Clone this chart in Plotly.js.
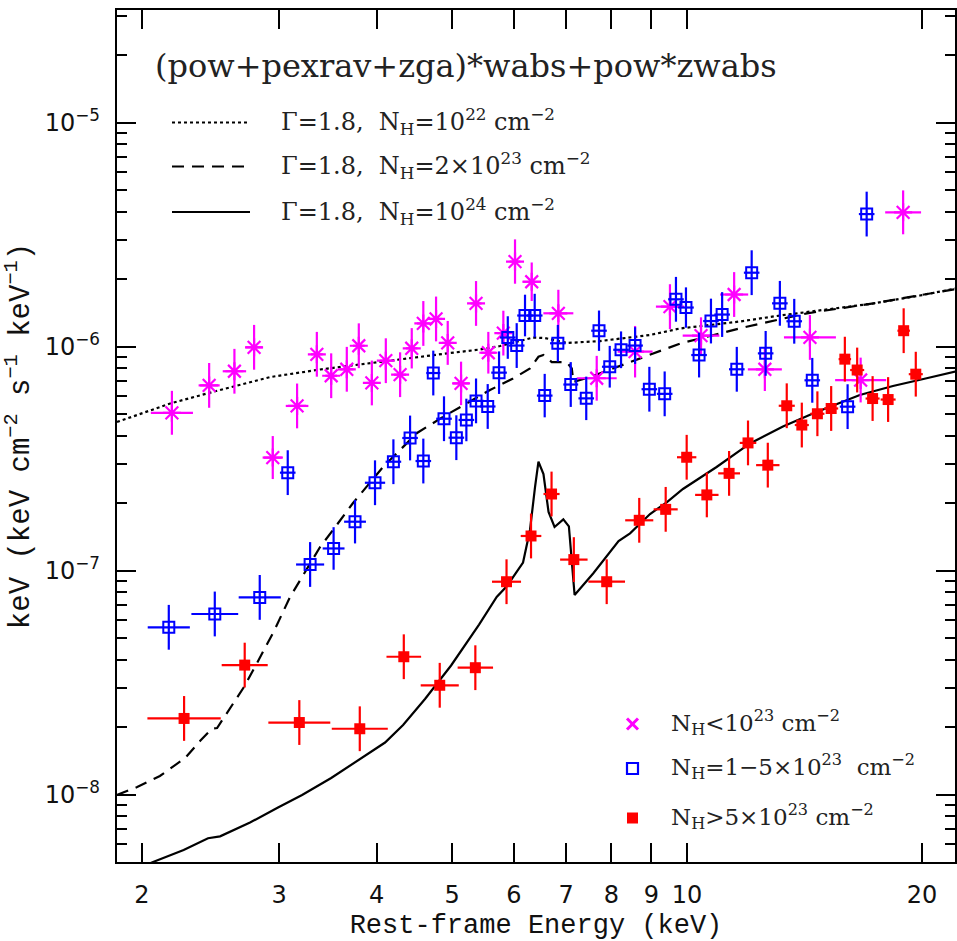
<!DOCTYPE html>
<html><head><meta charset="utf-8">
<script src="https://cdn.plot.ly/plotly-3.0.1.min.js"></script>
<style>html,body{margin:0;padding:0;background:#fff}#chart{width:957px;height:941px}</style>
</head><body><div id="chart"></div>
<script>
// ---------- data: N_H < 1e23 (magenta) ----------
const E_low = [2.186, 2.440, 2.629, 2.786, 2.944, 3.163, 3.353, 3.498, 3.663, 3.795, 3.944, 4.110, 4.287, 4.437, 4.591, 4.767, 4.934, 5.132, 5.364, 5.562, 5.814, 6.018, 6.322, 6.839, 7.659, 8.577, 9.507, 10.42, 11.49, 12.58, 14.37, 16.69, 18.92];
const F_low = [5.07e-7, 6.72e-7, 7.77e-7, 9.94e-7, 3.20e-7, 5.44e-7, 9.25e-7, 7.42e-7, 7.93e-7, 1.01e-6, 6.89e-7, 8.66e-7, 7.50e-7, 9.84e-7, 1.27e-6, 1.33e-6, 1.04e-6, 6.86e-7, 1.56e-6, 9.40e-7, 1.15e-6, 2.40e-6, 1.95e-6, 1.41e-6, 7.23e-7, 9.50e-7, 1.51e-6, 1.12e-6, 1.71e-6, 7.93e-7, 1.10e-6, 7.10e-7, 3.98e-6];
const dEdex_low = [0.027, 0.0135, 0.015, 0.011, 0.013, 0.0145, 0.0075, 0.0075, 0.0085, 0.0075, 0.007, 0.0075, 0.0077, 0.0073, 0.0081, 0.0077, 0.0074, 0.0103, 0.007, 0.0096, 0.0077, 0.0068, 0.0118, 0.0192, 0.0256, 0.0224, 0.018, 0.0235, 0.018, 0.0218, 0.0333, 0.0327, 0.023];
const dFdex_low = [0.098, 0.1, 0.1, 0.1, 0.096, 0.1, 0.1, 0.1, 0.1, 0.1, 0.1, 0.1, 0.1, 0.09, 0.1, 0.1, 0.098, 0.097, 0.1, 0.093, 0.1, 0.099, 0.086, 0.105, 0.1, 0.115, 0.1, 0.082, 0.1, 0.097, 0.1, 0.1, 0.098];

// ---------- data: N_H = 1-5e23 (blue) ----------
const E_mid = [2.166, 2.481, 2.833, 3.077, 3.287, 3.523, 3.753, 3.981, 4.203, 4.415, 4.591, 4.728, 4.880, 5.061, 5.213, 5.364, 5.552, 5.741, 5.891, 6.048, 6.198, 6.378, 6.569, 6.829, 7.094, 7.426, 7.711, 7.959, 8.229, 8.577, 8.946, 9.360, 9.677, 9.967, 10.36, 10.73, 11.09, 11.58, 12.10, 12.61, 13.15, 13.72, 14.47, 16.06, 16.99];
const F_mid = [5.59e-8, 6.41e-8, 7.60e-8, 2.74e-7, 1.066e-7, 1.257e-7, 1.655e-7, 2.47e-7, 3.066e-7, 3.913e-7, 3.088e-7, 7.63e-7, 4.77e-7, 3.925e-7, 4.71e-7, 5.73e-7, 5.41e-7, 7.66e-7, 1.099e-6, 1.012e-6, 1.378e-6, 1.378e-6, 6.05e-7, 1.036e-6, 6.78e-7, 5.88e-7, 1.179e-6, 8.14e-7, 9.69e-7, 1.012e-6, 6.46e-7, 6.16e-7, 1.628e-6, 1.496e-6, 9.18e-7, 1.302e-6, 1.392e-6, 7.93e-7, 2.14e-6, 9.34e-7, 1.562e-6, 1.299e-6, 7.08e-7, 5.40e-7, 3.91e-6];
const dEdex_mid = [0.027, 0.030, 0.027, 0.010, 0.018, 0.014, 0.014, 0.013, 0.010, 0.010, 0.010, 0.009, 0.010, 0.010, 0.010, 0.010, 0.010, 0.010, 0.010, 0.010, 0.010, 0.010, 0.010, 0.010, 0.0095, 0.010, 0.010, 0.010, 0.010, 0.010, 0.010, 0.010, 0.010, 0.010, 0.010, 0.010, 0.010, 0.010, 0.010, 0.010, 0.010, 0.010, 0.010, 0.010, 0.010];
const dFdex_mid = [0.1, 0.1, 0.1, 0.1, 0.1, 0.095, 0.097, 0.1, 0.1, 0.1, 0.1, 0.1, 0.1, 0.1, 0.095, 0.1, 0.1, 0.095, 0.095, 0.1, 0.093, 0.097, 0.097, 0.082, 0.1, 0.097, 0.09, 0.093, 0.082, 0.082, 0.1, 0.1, 0.1, 0.09, 0.1, 0.1, 0.1, 0.1, 0.1, 0.1, 0.1, 0.1, 0.1, 0.1, 0.1];

// ---------- data: N_H > 5e23 (red) ----------
const E_high = [2.266, 2.710, 3.184, 3.806, 4.334, 4.819, 5.353, 5.869, 6.309, 6.703, 7.159, 7.888, 8.683, 9.388, 9.988, 10.60, 11.32, 11.97, 12.69, 13.42, 14.03, 14.69, 15.30, 15.93, 16.52, 17.29, 18.10, 18.95, 19.64];
const F_high = [2.19e-8, 3.79e-8, 2.10e-8, 1.97e-8, 4.13e-8, 3.08e-8, 3.69e-8, 8.93e-8, 1.429e-7, 2.20e-7, 1.121e-7, 8.93e-8, 1.679e-7, 1.879e-7, 3.21e-7, 2.18e-7, 2.72e-7, 3.72e-7, 2.96e-7, 5.45e-7, 4.47e-7, 5.02e-7, 5.30e-7, 8.80e-7, 7.87e-7, 5.87e-7, 5.81e-7, 1.179e-6, 7.54e-7];
const dEdex_high = [0.047, 0.0295, 0.0397, 0.0359, 0.0222, 0.0244, 0.0227, 0.0186, 0.0132, 0.0103, 0.0176, 0.0235, 0.018, 0.0154, 0.0124, 0.015, 0.014, 0.0106, 0.015, 0.0103, 0.009, 0.009, 0.009, 0.008, 0.009, 0.009, 0.0096, 0.008, 0.009];
const dFdex_high = [0.1, 0.1, 0.1, 0.1, 0.1, 0.1, 0.1, 0.1, 0.1, 0.1, 0.1, 0.1, 0.1, 0.1, 0.1, 0.1, 0.1, 0.1, 0.1, 0.1, 0.1, 0.1, 0.1, 0.1, 0.1, 0.1, 0.1, 0.1, 0.1];

// ---------- models ----------
const E_m22 = [1.859, 2.020, 2.175, 2.520, 2.921, 3.385, 3.924, 4.376, 4.968, 5.428, 5.757, 6.107, 6.346, 6.575, 7.018, 7.734, 8.964, 9.792, 11.69, 13.15, 14.25, 17.31, 19.88, 22.11];
const F_m22 = [4.61e-7, 5.11e-7, 5.58e-7, 6.41e-7, 7.32e-7, 7.91e-7, 8.41e-7, 8.86e-7, 9.37e-7, 9.72e-7, 1.007e-6, 1.060e-6, 1.099e-6, 1.093e-6, 1.039e-6, 1.060e-6, 1.128e-6, 1.206e-6, 1.296e-6, 1.378e-6, 1.428e-6, 1.559e-6, 1.693e-6, 1.819e-6];
const E_m23 = [1.859, 1.973, 2.110, 2.273, 2.375, 2.461, 2.498, 2.573, 2.704, 2.810, 2.955, 3.098, 3.257, 3.385, 3.517, 3.731, 4.076, 4.507, 4.866, 5.219, 5.590, 5.983, 6.290, 6.449, 6.545, 6.707, 7.012, 7.116, 7.149, 7.510, 8.451, 9.792, 11.92, 14.24, 17.33, 22.11];
const F_m23 = [9.97e-9, 1.082e-8, 1.212e-8, 1.458e-8, 1.737e-8, 1.975e-8, 1.985e-8, 2.315e-8, 3.025e-8, 3.87e-8, 5.38e-8, 7.63e-8, 1.028e-7, 1.276e-7, 1.520e-7, 2.006e-7, 2.904e-7, 4.12e-7, 4.86e-7, 5.59e-7, 6.41e-7, 7.21e-7, 7.99e-7, 9.02e-7, 9.18e-7, 8.54e-7, 8.54e-7, 7.99e-7, 6.96e-7, 7.32e-7, 8.54e-7, 1.033e-6, 1.228e-6, 1.409e-6, 1.562e-6, 1.810e-6];
const E_m24 = [1.961, 2.068, 2.263, 2.432, 2.520, 2.753, 2.990, 3.210, 3.498, 3.787, 4.101, 4.325, 4.614, 4.983, 5.147, 5.412, 5.701, 5.877, 6.162, 6.290, 6.384, 6.449, 6.545, 6.644, 6.763, 6.940, 7.055, 7.175, 7.583, 8.169, 8.451, 8.964, 9.424, 9.879, 10.91, 12.04, 13.27, 14.50, 16.65, 18.36, 20.28, 22.11];
const F_m24 = [4.61e-9, 5.01e-9, 5.66e-9, 6.39e-9, 6.52e-9, 7.51e-9, 8.77e-9, 9.97e-9, 1.187e-8, 1.428e-8, 1.710e-8, 2.048e-8, 2.675e-8, 3.775e-8, 4.43e-8, 5.75e-8, 7.63e-8, 8.55e-8, 1.088e-7, 1.520e-7, 2.364e-7, 3.066e-7, 2.70e-7, 1.829e-7, 1.567e-7, 1.696e-7, 1.578e-7, 7.79e-8, 9.74e-8, 1.357e-7, 1.469e-7, 1.791e-7, 2.026e-7, 2.316e-7, 2.904e-7, 3.70e-7, 4.40e-7, 5.03e-7, 6.09e-7, 6.68e-7, 7.23e-7, 7.75e-7];

// ---------- ticks & labels ----------
const xTickVals = [2, 3, 4, 5, 6, 7, 8, 9, 10, 20];
const xTickText = ['2', '3', '4', '5', '6', '7', '8', '9', '10', '20'];
const yTickVals = [1e-8, 1e-7, 1e-6, 1e-5];
const yTickText = ['10<sup>−8</sup>', '10<sup>−7</sup>', '10<sup>−6</sup>', '10<sup>−5</sup>'];
const modelLabels = [
  'Γ=1.8,\u00a0\u00a0N<sub>H</sub>=10<sup>22</sup>\u00a0cm<sup>−2</sup>',
  'Γ=1.8,\u00a0\u00a0N<sub>H</sub>=2×10<sup>23</sup>\u00a0cm<sup>−2</sup>',
  'Γ=1.8,\u00a0\u00a0N<sub>H</sub>=10<sup>24</sup>\u00a0cm<sup>−2</sup>'
];
const dataLabels = [
  'N<sub>H</sub><10<sup>23</sup>\u00a0cm<sup>−2</sup>',
  'N<sub>H</sub>=1−5×10<sup>23</sup>\u00a0\u00a0cm<sup>−2</sup>',
  'N<sub>H</sub>>5×10<sup>23</sup>\u00a0cm<sup>−2</sup>'
];
const modelTitle = '(pow+pexrav+zga)*wabs+pow*zwabs';

// ---------- build ----------
function errUp(v, d) { return v.map((x, i) => x * (Math.pow(10, d[i]) - 1)); }
function errDn(v, d) { return v.map((x, i) => x * (1 - Math.pow(10, -d[i]))); }

const MAG = '#ff00ff', BLU = '#0000ff', RED = '#ff0000';

function dataTrace(E, F, dEx, dFy, color, marker) {
  return {
    type: 'scatter', mode: 'markers', x: E, y: F,
    error_x: {type: 'data', symmetric: false, array: errUp(E, dEx), arrayminus: errDn(E, dEx), color: color, thickness: 2.2, width: 0},
    error_y: {type: 'data', symmetric: false, array: errUp(F, dFy), arrayminus: errDn(F, dFy), color: color, thickness: 2.2, width: 0},
    marker: marker, hoverinfo: 'skip'
  };
}

const traces = [
  {type: 'scatter', mode: 'lines', x: E_m22, y: F_m22, line: {color: '#000', width: 2.2, dash: 'dot'}},
  {type: 'scatter', mode: 'lines', x: E_m23, y: F_m23, line: {color: '#000', width: 2.2, dash: '12px,8px'}},
  {type: 'scatter', mode: 'lines', x: E_m24, y: F_m24, line: {color: '#000', width: 2.2}},
  dataTrace(E_low, F_low, dEdex_low, dFdex_low, MAG, {symbol: 'asterisk-open', size: 15, color: MAG, line: {color: MAG, width: 2.2}}),
  dataTrace(E_mid, F_mid, dEdex_mid, dFdex_mid, BLU, {symbol: 'square-open', size: 11, color: BLU, line: {color: BLU, width: 2}}),
  dataTrace(E_high, F_high, dEdex_high, dFdex_high, RED, {symbol: 'square', size: 11, color: RED, line: {width: 0}})
];

// plot area: left 117, right 955, top 10, bottom 862 (px)
const L = 117, R = 955, T = 10, B = 862;
const px = x => (x - L) / (R - L);
const py = y => (B - y) / (B - T);

const minorY = [];
for (let e = -9; e <= -5; e++) for (let m = 2; m <= 9; m++) minorY.push(m * Math.pow(10, e));

const serif = 'DejaVu Serif';
const shapes = [], annotations = [];
const dashes = ['dot', '12px,8px', 'solid'];
const rowY = [122.5, 166.5, 212];
for (let i = 0; i < 3; i++) {
  shapes.push({type: 'line', xref: 'paper', yref: 'paper', x0: px(172), x1: px(250), y0: py(rowY[i]), y1: py(rowY[i]), line: {color: '#000', width: 2.2, dash: dashes[i]}});
  annotations.push({xref: 'paper', yref: 'paper', x: px(279), y: py(rowY[i] - 1), xanchor: 'left', yanchor: 'middle', showarrow: false, text: modelLabels[i], font: {family: serif, size: 24, color: '#222'}});
}
annotations.push({xref: 'paper', yref: 'paper', x: px(153), y: py(66), xanchor: 'left', yanchor: 'middle', showarrow: false, text: modelTitle, font: {family: serif, size: 32, color: '#222'}});

const legY = [724, 768.5, 818];
// magenta x
shapes.push({type: 'line', xref: 'paper', yref: 'paper', xsizemode: 'pixel', ysizemode: 'pixel', xanchor: px(632.5), yanchor: py(legY[0]), x0: -5.5, x1: 5.5, y0: -5.5, y1: 5.5, line: {color: MAG, width: 3}});
shapes.push({type: 'line', xref: 'paper', yref: 'paper', xsizemode: 'pixel', ysizemode: 'pixel', xanchor: px(632.5), yanchor: py(legY[0]), x0: -5.5, x1: 5.5, y0: 5.5, y1: -5.5, line: {color: MAG, width: 3}});
shapes.push({type: 'rect', xref: 'paper', yref: 'paper', xsizemode: 'pixel', ysizemode: 'pixel', xanchor: px(632.5), yanchor: py(legY[1]), x0: -5.5, x1: 5.5, y0: -5.5, y1: 5.5, line: {color: BLU, width: 2.2}, fillcolor: 'rgba(0,0,0,0)'});
shapes.push({type: 'rect', xref: 'paper', yref: 'paper', xsizemode: 'pixel', ysizemode: 'pixel', xanchor: px(632.5), yanchor: py(legY[2]), x0: -5.5, x1: 5.5, y0: -5.5, y1: 5.5, line: {width: 0}, fillcolor: RED});
for (let i = 0; i < 3; i++) {
  annotations.push({xref: 'paper', yref: 'paper', x: px(669), y: py(legY[i] - 2), xanchor: 'left', yanchor: 'middle', showarrow: false, text: dataLabels[i], font: {family: serif, size: 23, color: '#222'}});
}

const axisCommon = {
  type: 'log', showgrid: false, zeroline: false, showline: true, linecolor: '#000', linewidth: 2.2,
  mirror: 'allticks', ticks: 'inside', ticklen: 19, tickwidth: 2, tickcolor: '#000',
  tickfont: {family: 'DejaVu Sans', size: 24, color: '#111'}, ticklabelstandoff: 10
};

const layout = {
  width: 957, height: 941,
  margin: {l: L, r: 957 - R, t: T, b: 941 - B},
  paper_bgcolor: '#ffffff', plot_bgcolor: '#ffffff', showlegend: false,
  xaxis: Object.assign({}, axisCommon, {
    range: [Math.log10(1.859), Math.log10(22.05)],
    tickmode: 'array', tickvals: xTickVals, ticktext: xTickText,
    title: {text: 'Rest-frame Energy (keV)', font: {family: 'Liberation Mono', size: 27, color: '#111'}, standoff: 16}
  }),
  yaxis: Object.assign({}, axisCommon, {
    range: [-8.3004, -4.4968],
    tickmode: 'array', tickvals: yTickVals, ticktext: yTickText,
    minor: {tickmode: 'array', tickvals: minorY, ticks: 'inside', ticklen: 10, tickwidth: 2, tickcolor: '#000'},
    title: {text: 'keV (keV cm<sup>−2</sup> s<sup>−1</sup> keV<sup>−1</sup>)', font: {family: 'Liberation Mono', size: 29, color: '#111'}, standoff: 10}
  }),
  shapes: shapes, annotations: annotations
};

Plotly.newPlot('chart', traces, layout, {displayModeBar: false, staticPlot: true});
</script></body></html>
